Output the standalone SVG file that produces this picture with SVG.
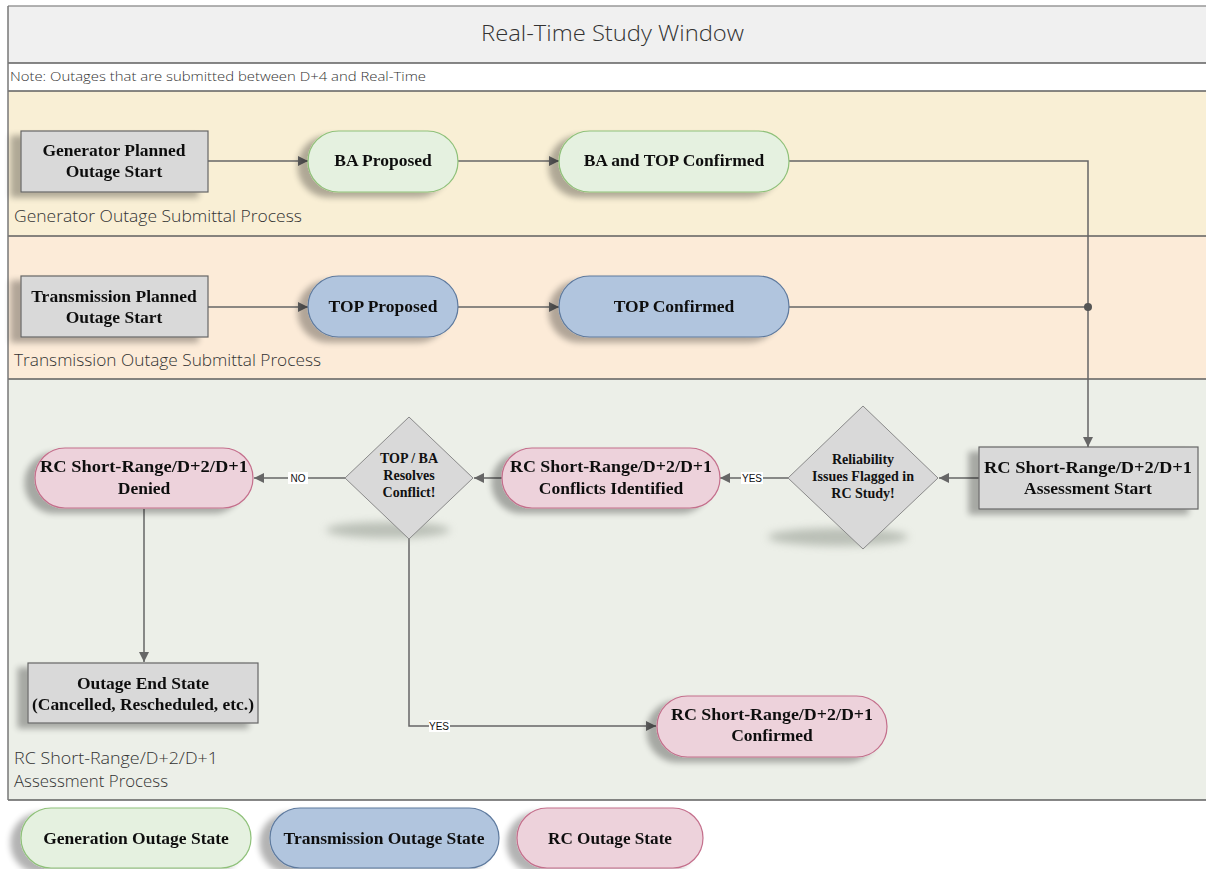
<svg xmlns="http://www.w3.org/2000/svg" width="1206" height="869" viewBox="0 0 1206 869">
<defs>
<style>
.lane{stroke:#5f5f5f;stroke-width:1.5}
.lbl{font-family:"Open Sans","Liberation Sans",sans-serif;font-weight:300;fill:#333}
.nt{font-family:"Liberation Serif","DejaVu Serif",serif;font-weight:bold;font-size:17.5px;fill:#111;text-anchor:middle}
.dt{font-family:"Liberation Serif","DejaVu Serif",serif;font-weight:bold;font-size:14px;fill:#111;text-anchor:middle}
.box{fill:#d9d9d9;stroke:#666;stroke-width:1.2}
.gen{fill:#e5f1e0;stroke:#8fc17a;stroke-width:1.2}
.tra{fill:#b1c5de;stroke:#5e7a9e;stroke-width:1.2}
.rc{fill:#edd2db;stroke:#c46f8c;stroke-width:1.2}
.dia{fill:#d9d9d9;stroke:#8a8a8a;stroke-width:1}
.edge{fill:none;stroke:#666;stroke-width:1.5}
.el{font-family:"Liberation Sans",sans-serif;font-size:10px;fill:#111;text-anchor:middle}
</style>
<filter id="sh" x="-20%" y="-20%" width="140%" height="160%">
<feGaussianBlur in="SourceAlpha" stdDeviation="3"/>
<feOffset dx="-10" dy="5" result="b"/>
<feComponentTransfer><feFuncA type="linear" slope="0.3"/></feComponentTransfer>
<feMerge><feMergeNode/><feMergeNode in="SourceGraphic"/></feMerge>
</filter>
<filter id="blur" x="-50%" y="-100%" width="200%" height="300%"><feGaussianBlur stdDeviation="4"/></filter>
<marker id="ar" viewBox="0 0 10 10" refX="10" refY="5" markerWidth="10" markerHeight="10" markerUnits="userSpaceOnUse" orient="auto">
<path d="M0,0 L10,5 L0,10 z" fill="#666"/>
</marker>
</defs>

<g id="lanes">
<rect x="8" y="6" width="1198" height="57" fill="#f0f0f0"/>
<rect x="8" y="63" width="1198" height="28" fill="#ffffff"/>
<rect x="8" y="91" width="1198" height="145" fill="#f9efd5"/>
<rect x="8" y="236" width="1198" height="143" fill="#fcebd8"/>
<rect x="8" y="379" width="1198" height="421" fill="#ecefe8"/>
<line x1="8" y1="6" x2="1206" y2="6" stroke="#999" stroke-width="1.5"/>
<line class="lane" x1="8" y1="63" x2="1206" y2="63"/>
<line class="lane" x1="8" y1="91" x2="1206" y2="91"/>
<line class="lane" x1="8" y1="236" x2="1206" y2="236"/>
<line class="lane" x1="8" y1="379" x2="1206" y2="379"/>
<line class="lane" x1="8" y1="800" x2="1206" y2="800"/>
<line x1="8" y1="6" x2="8" y2="800" stroke="#777" stroke-width="1.5"/>
<text class="lbl" x="481" y="41" font-size="22" textLength="263" lengthAdjust="spacingAndGlyphs" fill="#222">Real-Time Study Window</text>
<text class="lbl" x="10" y="81" font-size="12" textLength="416" lengthAdjust="spacingAndGlyphs">Note: Outages that are submitted between D+4 and Real-Time</text>
<text class="lbl" x="14" y="222" font-size="16.5" textLength="288" lengthAdjust="spacingAndGlyphs">Generator Outage Submittal Process</text>
<text class="lbl" x="14" y="366" font-size="16.5" textLength="307" lengthAdjust="spacingAndGlyphs">Transmission Outage Submittal Process</text>
<text class="lbl" x="14" y="764" font-size="16.5" textLength="204" lengthAdjust="spacingAndGlyphs">RC Short-Range/D+2/D+1</text>
<text class="lbl" x="14" y="787" font-size="16.5" textLength="154" lengthAdjust="spacingAndGlyphs">Assessment Process</text>
</g>

<g id="connectors">
<path class="edge" d="M208,161 H308" marker-end="url(#ar)"/>
<path class="edge" d="M458,161 H559" marker-end="url(#ar)"/>
<path class="edge" d="M789,161 H1088 V447" marker-end="url(#ar)"/>
<path class="edge" d="M208,307 H308" marker-end="url(#ar)"/>
<path class="edge" d="M458,307 H559" marker-end="url(#ar)"/>
<path class="edge" d="M789,307 H1088"/>
<circle cx="1088" cy="307" r="4" fill="#555"/>
<path class="edge" d="M979,478 H939" marker-end="url(#ar)"/>
<path class="edge" d="M788,478 H720" marker-end="url(#ar)"/>
<path class="edge" d="M502,478 H474" marker-end="url(#ar)"/>
<path class="edge" d="M345,478 H254" marker-end="url(#ar)"/>
<path class="edge" d="M144,509 V662" marker-end="url(#ar)"/>
<path class="edge" d="M409,539 V726 H656" marker-end="url(#ar)"/>
<rect x="741" y="472" width="22" height="12" fill="#fff"/>
<text class="el" x="752" y="482">YES</text>
<rect x="288" y="472" width="20" height="12" fill="#fff"/>
<text class="el" x="298" y="482">NO</text>
<rect x="429" y="720" width="21" height="12" fill="#fff"/>
<text class="el" x="439" y="730">YES</text>
</g>

<g id="gen-start" filter="url(#sh)">
<rect class="box" x="21" y="131" width="187" height="61"/>
<text class="nt" x="114" y="156">Generator Planned</text>
<text class="nt" x="114" y="177">Outage Start</text>
</g>
<g id="ba-proposed" filter="url(#sh)">
<rect class="gen" x="308" y="131" width="150" height="61" rx="30.5"/>
<text class="nt" x="383" y="166">BA Proposed</text>
</g>
<g id="ba-top-confirmed" filter="url(#sh)">
<rect class="gen" x="559" y="131" width="230" height="61" rx="30.5"/>
<text class="nt" x="674" y="166">BA and TOP Confirmed</text>
</g>

<g id="trans-start" filter="url(#sh)">
<rect class="box" x="21" y="276" width="187" height="61"/>
<text class="nt" x="114" y="302">Transmission Planned</text>
<text class="nt" x="114" y="323">Outage Start</text>
</g>
<g id="top-proposed" filter="url(#sh)">
<rect class="tra" x="308" y="276" width="150" height="61" rx="30.5"/>
<text class="nt" x="383" y="312">TOP Proposed</text>
</g>
<g id="top-confirmed" filter="url(#sh)">
<rect class="tra" x="559" y="276" width="230" height="61" rx="30.5"/>
<text class="nt" x="674" y="312">TOP Confirmed</text>
</g>

<g id="rc-start" filter="url(#sh)">
<rect class="box" x="979" y="447" width="219" height="62"/>
<text class="nt" x="1088" y="473" textLength="208" lengthAdjust="spacingAndGlyphs">RC Short-Range/D+2/D+1</text>
<text class="nt" x="1088" y="494">Assessment Start</text>
</g>

<g id="reliability-decision">
<ellipse cx="838" cy="537" rx="70" ry="9" fill="#9aa096" opacity="0.6" filter="url(#blur)"/>
<polygon class="dia" points="863,406 938,478 863,549 788,478"/>
<text class="dt" x="863" y="464">Reliability</text>
<text class="dt" x="863" y="481">Issues Flagged in</text>
<text class="dt" x="863" y="498">RC Study!</text>
</g>

<g id="rc-conflicts" filter="url(#sh)">
<rect class="rc" x="502" y="448" width="218" height="60" rx="30"/>
<text class="nt" x="611" y="472" textLength="202" lengthAdjust="spacingAndGlyphs">RC Short-Range/D+2/D+1</text>
<text class="nt" x="611" y="494">Conflicts Identified</text>
</g>

<g id="resolve-decision">
<ellipse cx="388" cy="530" rx="62" ry="8" fill="#9aa096" opacity="0.6" filter="url(#blur)"/>
<polygon class="dia" points="409,417 473,478 409,539 345,478"/>
<text class="dt" x="409" y="463">TOP / BA</text>
<text class="dt" x="409" y="480">Resolves</text>
<text class="dt" x="409" y="497">Conflict!</text>
</g>

<g id="rc-denied" filter="url(#sh)">
<rect class="rc" x="35" y="448" width="218" height="60" rx="30"/>
<text class="nt" x="144" y="472" textLength="208" lengthAdjust="spacingAndGlyphs">RC Short-Range/D+2/D+1</text>
<text class="nt" x="144" y="494">Denied</text>
</g>

<g id="outage-end" filter="url(#sh)">
<rect class="box" x="28" y="663" width="230" height="60"/>
<text class="nt" x="143" y="689">Outage End State</text>
<text class="nt" x="143" y="710" textLength="222" lengthAdjust="spacingAndGlyphs">(Cancelled, Rescheduled, etc.)</text>
</g>

<g id="rc-confirmed" filter="url(#sh)">
<rect class="rc" x="657" y="696" width="230" height="61" rx="30.5"/>
<text class="nt" x="772" y="720" textLength="202" lengthAdjust="spacingAndGlyphs">RC Short-Range/D+2/D+1</text>
<text class="nt" x="772" y="741">Confirmed</text>
</g>

<g id="legend-gen" filter="url(#sh)">
<rect class="gen" x="21" y="808" width="230" height="60" rx="30"/>
<text class="nt" x="136" y="844">Generation Outage State</text>
</g>
<g id="legend-trans" filter="url(#sh)">
<rect class="tra" x="270" y="808" width="229" height="60" rx="30"/>
<text class="nt" x="384" y="844">Transmission Outage State</text>
</g>
<g id="legend-rc" filter="url(#sh)">
<rect class="rc" x="517" y="808" width="186" height="60" rx="30"/>
<text class="nt" x="610" y="844" textLength="124" lengthAdjust="spacingAndGlyphs">RC Outage State</text>
</g>
</svg>
